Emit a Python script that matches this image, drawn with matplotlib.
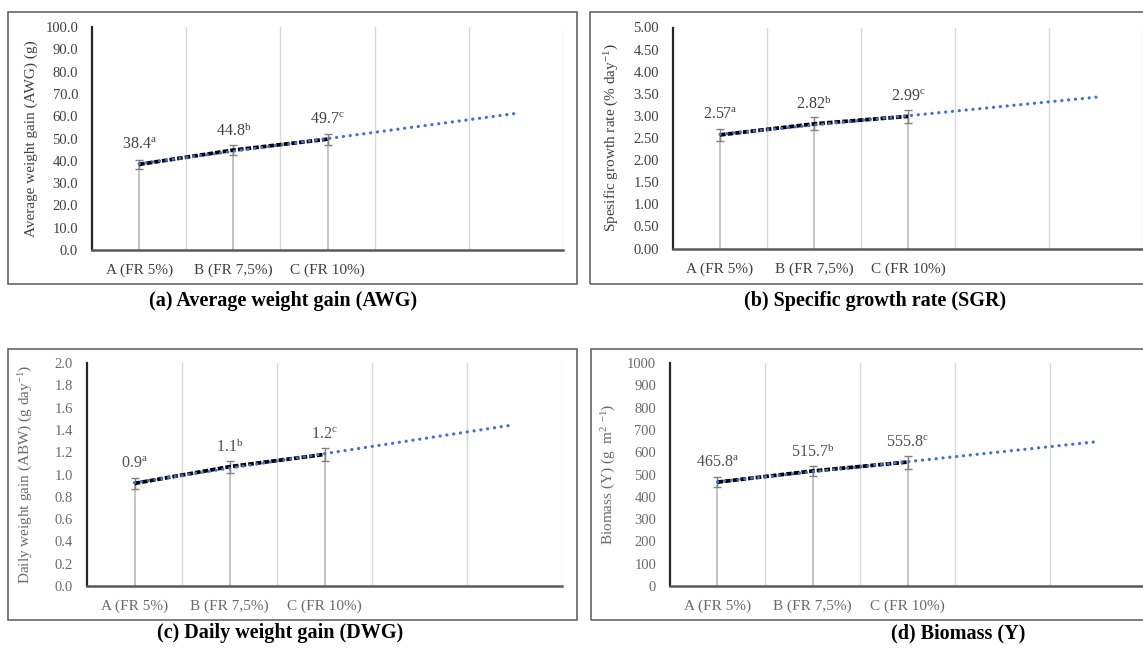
import matplotlib.pyplot as plt
import numpy as np
from matplotlib.patches import Rectangle

plt.rcParams['font.family'] = ['Liberation Serif', 'DejaVu Serif']
plt.rcParams['mathtext.fontset'] = 'custom'
plt.rcParams['mathtext.rm'] = 'Liberation Serif'
plt.rcParams['mathtext.it'] = 'Liberation Serif:italic'
plt.rcParams['mathtext.bf'] = 'Liberation Serif:bold'

#------------------------------------------ DATA ------------------------------------------
categories = ['A (FR 5%)', 'B (FR 7,5%)', 'C (FR 10%)']
letters = ['a', 'b', 'c']

awg = [38.4, 44.8, 49.7]
awg_err = [2.0, 2.3, 2.4]
awg_labels = ['38.4', '44.8', '49.7']

sgr = [2.57, 2.82, 2.99]
sgr_err = [0.13, 0.15, 0.15]
sgr_labels = ['2.57', '2.82', '2.99']

dwg = [0.92, 1.07, 1.18]
dwg_err = [0.048, 0.053, 0.056]
dwg_labels = ['0.9', '1.1', '1.2']

biomass = [465.8, 515.7, 555.8]
biomass_err = [23, 24, 29]
biomass_labels = ['465.8', '515.7', '555.8']

#------------------------------------------ FIGURE ----------------------------------------
W, H = 1143, 651
fig = plt.figure(figsize=(W / 100, H / 100), dpi=100)


def box(x0, y0, x1, y1):
    fig.add_artist(Rectangle((x0 / W, 1 - y1 / H), (x1 - x0) / W, (y1 - y0) / H,
                             transform=fig.transFigure, fill=False, ec='#595959', lw=1.1))


def panel(pos, vals, err, labels, ylim, yticks, fmt, ylabel, txt_col, lab_col):
    left, top, right, bottom = pos
    ax = fig.add_axes([left / W, 1 - bottom / H, (right - left) / W, (bottom - top) / H])
    x = np.arange(len(vals)) + 0.5
    ax.set_xlim(0, 5)
    ax.set_ylim(*ylim)
    ax.set_xticks(x, categories)
    ax.set_yticks(yticks, [fmt.format(t) for t in yticks])
    ax.set_xticks([1, 2, 3, 4, 5], minor=True)
    ax.grid(which='minor', axis='x', color='#d9d9d9', lw=1)
    ax.tick_params(which='both', length=0)
    ax.tick_params(axis='y', pad=10, labelsize=10.5, labelcolor=txt_col)
    ax.tick_params(axis='x', pad=10, labelsize=11, labelcolor=txt_col)
    for s in ['top', 'right']:
        ax.spines[s].set_visible(False)
    ax.spines['left'].set_color('#262626')
    ax.spines['left'].set_linewidth(1.6)
    ax.spines['bottom'].set_color('#595959')
    ax.spines['bottom'].set_linewidth(1.8)

    # drop lines and error bars
    ax.vlines(x, 0, vals, color='#bfbfbf', lw=1.3, zorder=2)
    ax.errorbar(x, vals, yerr=err, fmt='none', ecolor='#808080', elinewidth=1,
                capsize=2.6, capthick=1, zorder=3)

    # series line and linear trendline (forward 2 periods)
    ax.plot(x, vals, color='black', lw=2.7, dashes=(1.5, 0.55), zorder=4)
    coef = np.polyfit(x, vals, 1)
    tx = np.array([x[0], x[-1] + 2])
    ax.plot(tx, np.polyval(coef, tx), color='#4472c4', lw=2.3,
            linestyle=(0, (0.05, 2.1)), dash_capstyle='round', zorder=5)

    for xi, vi, lab, let in zip(x, vals, labels, letters):
        ax.annotate(lab + r'$^{\rm ' + let + '}$', (xi, vi), xytext=(0, 14),
                    textcoords='offset points', ha='center', va='center',
                    fontsize=11.5, color=lab_col)

    ax.set_ylabel(ylabel, fontsize=11, color=txt_col, va='center')
    ax.yaxis.set_label_coords(-61 / (right - left), 0.5)
    return ax


#------------------------------------------ PANELS ----------------------------------------
box(8, 12, 577, 284)
box(590, 12, 1160, 284)
box(8, 349, 577, 620)
box(591, 349, 1160, 620)

panel((92, 27, 563, 250), awg, awg_err, awg_labels, (0, 100), np.arange(0, 101, 10), '{:.1f}',
      'Average weight gain (AWG) (g)', '#404040', '#404040')
panel((673, 27.5, 1143, 248.5), sgr, sgr_err, sgr_labels, (0, 5), np.arange(0, 5.01, 0.5), '{:.2f}',
      'Spesific growth rate (% day$^{-1}$)', '#404040', '#404040')
panel((87, 363, 562, 586), dwg, dwg_err, dwg_labels, (0, 2), np.arange(0, 2.01, 0.2), '{:.1f}',
      'Daily weight gain (ABW) (g day$^{-1}$)', '#6b6b6b', '#505050')
panel((670, 363, 1145, 586), biomass, biomass_err, biomass_labels, (0, 1000), np.arange(0, 1001, 100), '{:.0f}',
      'Biomass (Y) (g  m$^{2}$ $^{-1}$)', '#6b6b6b', '#505050')

#------------------------------------------ TITLES ----------------------------------------
fig.text(283 / W, 1 - 301 / H, '(a) Average weight gain (AWG)', ha='center', va='center',
         fontsize=14.5, fontweight='bold')
fig.text(875 / W, 1 - 301 / H, '(b) Specific growth rate (SGR)', ha='center', va='center',
         fontsize=14.5, fontweight='bold')
fig.text(280 / W, 1 - 633 / H, '(c) Daily weight gain (DWG)', ha='center', va='center',
         fontsize=14.5, fontweight='bold')
fig.text(958 / W, 1 - 633 / H, '(d) Biomass (Y)', ha='center', va='center',
         fontsize=14.5, fontweight='bold')

fig.savefig('out.png', dpi=100)
